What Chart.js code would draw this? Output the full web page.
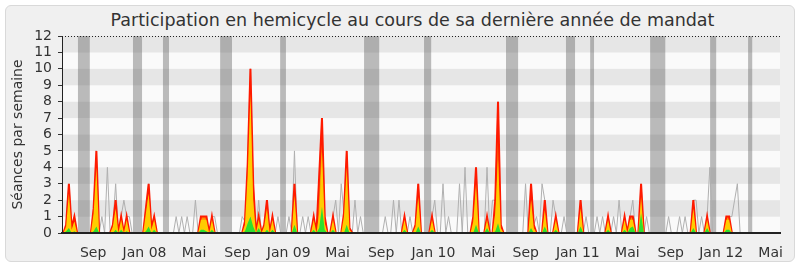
<!DOCTYPE html>
<html>
<head>
<meta charset="utf-8">
<script src="https://cdn.jsdelivr.net/npm/chart.js@4.4.1/dist/chart.umd.min.js"></script>
<style>
  body { margin: 0; background: #fff; }
  #wrap { position: relative; width: 800px; height: 267px; }
  #frame { position: absolute; left: 5px; top: 5px; width: 788px; height: 255px;
           background: #f0f0f0; border: 1px solid #d9d9d9; border-radius: 6px; }
  #title { position: absolute; left: 0; top: 10px; width: 825px; text-align: center;
           font: 17.5px/20px "DejaVu Sans", sans-serif; color: #333; }
  canvas { position: absolute; left: 0; top: 0; }
</style>
</head>
<body>
<div id="wrap">
  <div id="frame"></div>
  <div id="title">Participation en hemicycle au cours de sa dernière année de mandat</div>
  <canvas id="chart" width="800" height="267"></canvas>
</div>
<script>
// === DATA (one value per week, from june 2007 to june 2012) ===
// grey line: séances in the hemicycle that week
const seances = [
  0,0.5,3,0.3,1,0,0,0,0,0,0,1.5,5,0,1,0,4,0,0.5,3,
  0,1,2,1,1,0,0,0,0,0,1.5,3,0.3,1,0,0,0,0,0,0,
  0,1,0,1,0,1,0,0,2,0,1,1,1,0,1,1,0,0,0,0,
  0,0,0,0,0,1,0.7,4.2,10,3,0,2,0,0.5,2,0,1,0,1,0,
  0,0,1,0,5,0,0,1,0,1,0,1,0,3.5,7,1,0,0,1,2,
  0,3,1.2,5,0.3,0,2,0,1,0,0,0,0,0,0,0,0,1,0,0,
  2,0,2,0,1,0,1,0,0.5,3,0,0,0,0,1,2,0,0,3,0,
  1,0,0,0,3,0,4,0,0,1,4,0,0,0,4,0,2,2,8,0.5,
  0,0,0,0,0,0,0,0,3,0,3,0.5,1,0,3,2,0,0,2,1,
  0,0,1,0,0,0,0,0,2,0,1,0,0,0,1,0,1,0,1,0,
  1,0,2,0,1,0,1,2,0,0,3,0,1,0,0,0,0,0,0,0,
  1,0,0,0,1,0,1,0,0,2,2,0,1,0,1,4,0,0,0,0,
  0,1,1,1,2,3,0,0,0,0,0,0,0,0,0,0,0,0,0,0,
  0
];
// red line / orange area
const presences = [
  0,0.5,3,0.3,1,0,0,0,0,0,0,1.5,5,0,0,0,0,0,0.5,2,
  0,1,0,1,0,0,0,0,0,0,1.5,3,0.3,1,0,0,0,0,0,0,
  0,0,0,0,0,0,0,0,0,0,1,1,1,0,1,0,0,0,0,0,
  0,0,0,0,0,0,0.7,4.2,10,3,0,1,0,0.5,2,0,1,0,0,0,
  0,0,0,0,3,0,0,0,0,0,0,1,0,3.5,7,1,0,0,1,0,
  0,0,1.2,5,0.3,0,0,0,0,0,0,0,0,0,0,0,0,0,0,0,
  0,0,0,0,1,0,0,0,0.5,3,0,0,0,0,1,0,0,0,0,0,
  0,0,0,0,0,0,0,0,0,1,4,0,0,0,1,0,0,2,8,0.5,
  0,0,0,0,0,0,0,0,0,0,3,0.5,0,0,0,2,0,0,0,1,
  0,0,0,0,0,0,0,0,2,0,0,0,0,0,0,0,0,0,1,0,
  0,0,0,0,1,0,1,1,0,0,3,0,0,0,0,0,0,0,0,0,
  0,0,0,0,0,0,0,0,0,2,0,0,0,0,1,0,0,0,0,0,
  0,1,1,0,0,0,0,0,0,0,0,0,0,0,0,0,0,0,0,0,
  0
];
// yellow area
const participations = [
  0,0.4,2.4,0.2,0.7,0,0,0,0,0,0,1.2,4,0,0,0,0,0,0.4,1.5,
  0,0.8,0,0.8,0,0,0,0,0,0,1.2,2.4,0.2,0.8,0,0,0,0,0,0,
  0,0,0,0,0,0,0,0,0,0,0.8,0.8,0.8,0,0.8,0,0,0,0,0,
  0,0,0,0,0,0,0.5,3.5,8.5,2,0,0.8,0,0.4,1.5,0,0.8,0,0,0,
  0,0,0,0,2.3,0,0,0,0,0,0,0.8,0,1.2,5,0.6,0,0,0.8,0,
  0,0,1,4,0.2,0,0,0,0,0,0,0,0,0,0,0,0,0,0,0,
  0,0,0,0,0.8,0,0,0,0.4,2.2,0,0,0,0,0.8,0,0,0,0,0,
  0,0,0,0,0,0,0,0,0,0.7,3,0,0,0,0.8,0,0,1.2,4.5,0.3,
  0,0,0,0,0,0,0,0,0,0,2,0.3,0,0,0,1.4,0,0,0,0.8,
  0,0,0,0,0,0,0,0,1.5,0,0,0,0,0,0,0,0,0,0.8,0,
  0,0,0,0,0.8,0,0.8,0.8,0,0,2.2,0,0,0,0,0,0,0,0,0,
  0,0,0,0,0,0,0,0,0,1.5,0,0,0,0,0.8,0,0,0,0,0,
  0,0.8,0.8,0,0,0,0,0,0,0,0,0,0,0,0,0,0,0,0,0,
  0
];
// green area
const interventions = [
  0,0.1,0.3,0,0.1,0,0,0,0,0,0,0.1,0.4,0,0,0,0,0,0,0.2,
  0,0.2,0,0.1,0,0,0,0,0,0,0.1,0.4,0,0.2,0,0,0,0,0,0,
  0,0,0,0,0,0,0,0,0,0,0.2,0.2,0.1,0,0.2,0,0,0,0,0,
  0,0,0,0,0,0,0.1,0.6,1,0.4,0,0.3,0,0,0.2,0,0.2,0,0,0,
  0,0,0,0,0.5,0,0,0,0,0,0,0.2,0,0.3,1.6,0.2,0,0,0.2,0,
  0,0,0,0.5,0,0,0,0,0,0,0,0,0,0,0,0,0,0,0,0,
  0,0,0,0,0.2,0,0,0,0,0.4,0,0,0,0,0.2,0,0,0,0,0,
  0,0,0,0,0,0,0,0,0,0,0.5,0,0,0,0.3,0,0,0.1,0.6,0,
  0,0,0,0,0,0,0,0,0,0,0.3,0,0,0,0,0.4,0,0,0,0.2,
  0,0,0,0,0,0,0,0,0.4,0,0,0,0,0,0,0,0,0,0.2,0,
  0,0,0,0,0.2,0,0.3,0.4,0,0,1.2,0,0,0,0,0,0,0,0,0,
  0,0,0,0,0,0,0,0,0,0.3,0,0,0,0,0.3,0,0,0,0,0,
  0,0.2,0.2,0,0,0,0,0,0,0,0,0,0,0,0,0,0,0,0,0,
  0
];

// vacation periods (grey bands), in weeks
const vacances = [
  [5.3, 9.6], [25.3, 28.6], [36.2, 38.4], [57, 61.3], [78.8, 80.9],
  [109.3, 114.8], [131.1, 133.7], [160.9, 165.3], [182.7, 186], [191.5, 192.9],
  [213.3, 218.8], [235.1, 237.3], [248.9, 250.4]
];

// x axis ticks (week position + label)
const tickWeeks = [10.8, 29.5, 47.5, 63.3, 81.9, 99.7, 115.5, 134.5, 152.6, 168.1, 187, 205, 220.8, 239.1, 257.1];
const tickLabels = ['Sep', 'Jan 08', 'Mai', 'Sep', 'Jan 09', 'Mai', 'Sep', 'Jan 10', 'Mai', 'Sep', 'Jan 11', 'Mai', 'Sep', 'Jan 12', 'Mai'];

const semaines = seances.map((_, i) => i);

const FONT = { family: '"DejaVu Sans", sans-serif', size: 14 };
const TEXT = '#333';

// striped background + vacation bands + dotted top line
const backdrop = {
  id: 'backdrop',
  beforeDraw(chart) {
    const { ctx, chartArea: a, scales: { x, y } } = chart;
    ctx.save();
    for (let v = 0; v < 12; v++) {
      const top = y.getPixelForValue(v + 1), bot = y.getPixelForValue(v);
      ctx.fillStyle = v % 2 ? '#e6e6e6' : '#fafafa';
      ctx.fillRect(a.left, top, a.right - a.left, bot - top);
    }
    ctx.fillStyle = 'rgba(90,90,90,0.4)';
    vacances.forEach(([s, e]) => {
      const x0 = x.getPixelForValue(s), x1 = x.getPixelForValue(e);
      ctx.fillRect(x0, a.top, x1 - x0, a.bottom - a.top);
    });
    ctx.restore();
  },
  afterDraw(chart) {
    const { ctx, chartArea: a, scales: { y } } = chart;
    const yy = Math.round(y.getPixelForValue(12)) + 0.5;
    ctx.save();
    ctx.strokeStyle = '#222';
    ctx.lineWidth = 1;
    ctx.setLineDash([1, 2]);
    ctx.beginPath();
    ctx.moveTo(a.left, yy);
    ctx.lineTo(a.right, yy);
    ctx.stroke();
    ctx.restore();
  }
};

new Chart(document.getElementById('chart'), {
  type: 'line',
  data: {
    labels: semaines,
    datasets: [
      { data: seances, borderColor: '#b0b0b0', borderWidth: 1, fill: false, order: 4 },
      { data: presences, borderColor: '#ff1a00', borderWidth: 2, backgroundColor: '#ff8c00', fill: 'origin', order: 3 },
      { data: participations, borderWidth: 0, borderColor: '#ffcc00', backgroundColor: '#ffcc00', fill: 'origin', order: 2 },
      { data: interventions, borderWidth: 0, borderColor: '#2ee02e', backgroundColor: '#2ee02e', fill: 'origin', order: 1 }
    ]
  },
  options: {
    responsive: false,
    animation: false,
    layout: { padding: { top: 36, right: 20, bottom: 0, left: 0 } },
    elements: { point: { radius: 0 }, line: { tension: 0 } },
    plugins: { legend: { display: false }, tooltip: { enabled: false } },
    scales: {
      x: {
        type: 'linear',
        min: -0.5,
        max: 260.5,
        afterBuildTicks: s => { s.ticks = tickWeeks.map(v => ({ value: v })); },
        afterFit: s => { s.height = 34; },
        ticks: { callback: (v, i) => tickLabels[i], autoSkip: false, maxRotation: 0, font: FONT, color: TEXT, padding: 4 },
        grid: { display: false },
        border: { display: true, color: '#222', width: 2, z: 1 }
      },
      y: {
        min: 0,
        max: 12,
        afterFit: s => { s.width = 62; },
        ticks: { stepSize: 1, autoSkip: false, font: FONT, color: TEXT, padding: 6 },
        grid: { drawOnChartArea: false, drawTicks: true, tickLength: 4, color: '#333' },
        border: { color: '#222', width: 1, z: 1 },
        title: { display: true, text: 'Séances par semaine', font: FONT, color: TEXT, padding: { top: 10, bottom: 0 } }
      }
    }
  },
  plugins: [backdrop]
});
</script>
</body>
</html>
